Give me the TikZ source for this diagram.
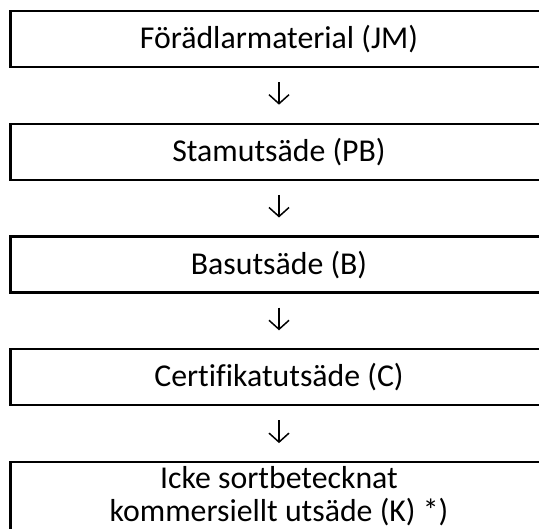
\documentclass[tikz,border=0pt]{standalone}
\usepackage{fontspec}
\setmainfont{Carlito}[Ligatures=CommonOff]
\usetikzlibrary{positioning,arrows.meta}

\begin{document}
\begin{tikzpicture}[x=1pt,y=-1pt,
  stage/.style={draw,line width=2.2pt,minimum width=537pt,minimum height=56pt,
    inner xsep=10pt,inner ysep=4pt,align=center,font=\fontsize{31.8}{33}\selectfont},
  flow/.style={line width=1.5pt,-{Straight Barb[length=9pt,width=20pt]},
    shorten <=14pt,shorten >=18pt}]
\useasboundingbox (0,0) rectangle (539,529);
\clip (0,0) rectangle (539,529);
\node[stage] (jm) at (279,39) {Förädlarmaterial (JM)};
\node[stage,below=54.6pt of jm] (pb) {Stamutsäde (PB)};
\node[stage,below=54.6pt of pb] (b) {Basutsäde (B)};
\node[stage,below=54.6pt of b] (c) {Certifikatutsäde (C)};
\node[stage,below=54.6pt of c] (k) {Icke sortbetecknat\\kommersiellt utsäde (K) *)};
\draw[flow] (jm) -- (pb);
\draw[flow] (pb) -- (b);
\draw[flow] (b) -- (c);
\draw[flow] (c) -- (k);
\end{tikzpicture}
\end{document}
